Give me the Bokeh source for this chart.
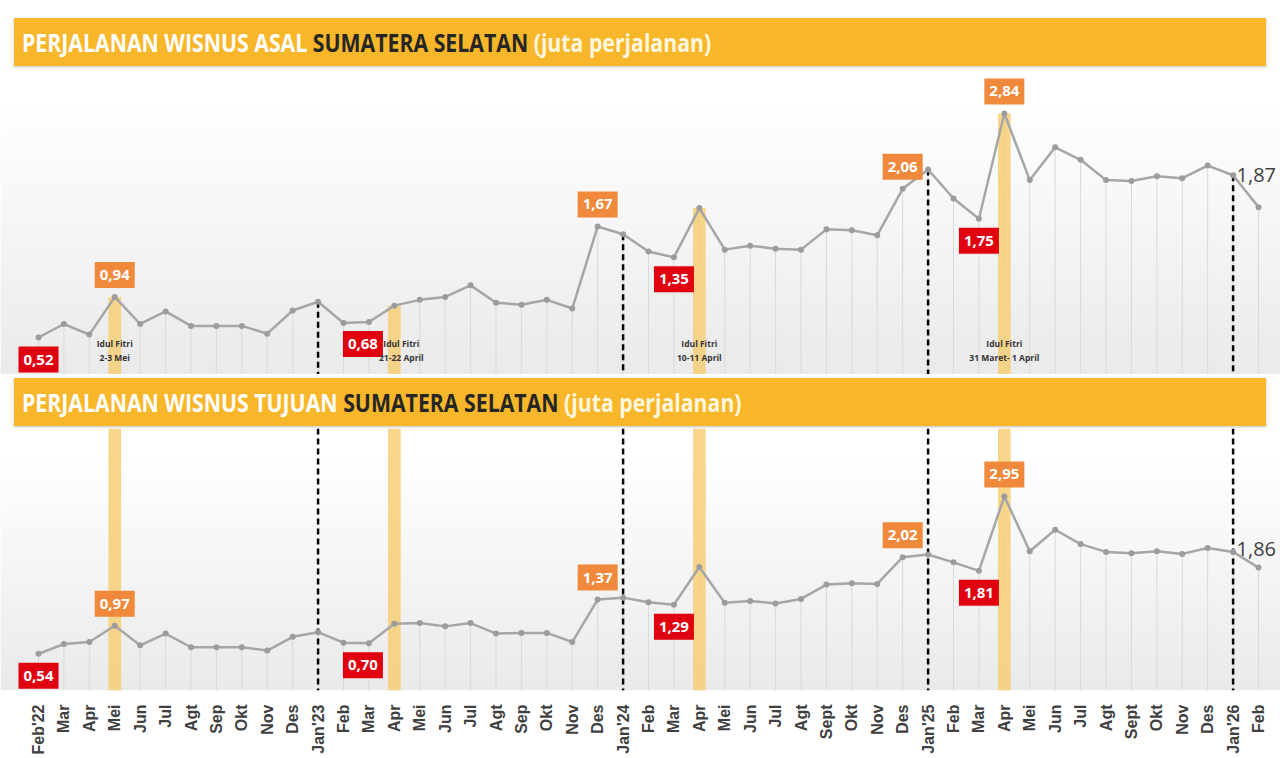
import math
import numpy as np
from bokeh.plotting import figure
from bokeh.models import ColumnDataSource, Range1d, FixedTicker, Div
from bokeh.layouts import column
from bokeh.core.properties import value
from bokeh.embed import file_html
from bokeh.resources import INLINE

# ---------------- data ----------------
months = ["Feb'22", "Mar", "Apr", "Mei", "Jun", "Jul", "Agt", "Sep", "Okt", "Nov", "Des",
          "Jan'23", "Feb", "Mar", "Apr", "Mei", "Jun", "Jul", "Agt", "Sep", "Okt", "Nov", "Des",
          "Jan'24", "Feb", "Mar", "Apr", "Mei", "Jun", "Jul", "Agt", "Sept", "Okt", "Nov", "Des",
          "Jan'25", "Feb", "Mar", "Apr", "Mei", "Jun", "Jul", "Agt", "Sept", "Okt", "Nov", "Des",
          "Jan'26", "Feb"]

asal = [0.52, 0.66, 0.55, 0.94, 0.66, 0.79, 0.64, 0.64, 0.64, 0.56, 0.80,
        0.89, 0.67, 0.68, 0.85, 0.91, 0.94, 1.06, 0.88, 0.86, 0.91, 0.82, 1.67,
        1.59, 1.41, 1.35, 1.86, 1.43, 1.47, 1.44, 1.43, 1.64, 1.63, 1.58, 2.06,
        2.26, 1.96, 1.75, 2.84, 2.15, 2.49, 2.36, 2.15, 2.14, 2.19, 2.17, 2.30,
        2.20, 1.87]

tujuan = [0.54, 0.69, 0.72, 0.97, 0.67, 0.85, 0.64, 0.64, 0.64, 0.59, 0.80,
          0.87, 0.71, 0.70, 1.00, 1.01, 0.96, 1.01, 0.85, 0.86, 0.86, 0.72, 1.37,
          1.40, 1.33, 1.29, 1.87, 1.32, 1.35, 1.31, 1.38, 1.60, 1.62, 1.61, 2.02,
          2.06, 1.94, 1.81, 2.95, 2.11, 2.44, 2.22, 2.10, 2.08, 2.11, 2.07, 2.16,
          2.10, 1.86]

label_idx = [0, 3, 13, 22, 25, 34, 37, 38]
label_kind = ["lo", "hi", "lo", "hi", "lo", "hi", "lo", "hi"]

fitri_idx = [3, 14, 26, 38]
fitri_line1 = ["Idul Fitri", "Idul Fitri", "Idul Fitri", "Idul Fitri"]
fitri_line2 = ["2-3 Mei", "21-22 April", "10-11 April", "31 Maret- 1 April"]

year_idx = [11, 23, 35, 47]

# ---------------- style ----------------
ORANGE = "#F0893B"
RED = "#E1000F"
BAND = "#F6CF78"
HEADER = "#F8B62A"
FONT = "Open Sans"
LABEL_XOFF = {13: -6}
FITRI_XOFF = {14: 7}

x = list(range(len(months)))


def fmt(v):
    return f"{v:.2f}".replace(".", ",")


def header(prefix, height, top_gap):
    html = (
        f'<div style="margin:{top_gap}px 0 0 14px;width:1252px;height:48px;background:{HEADER};'
        'box-shadow:0 1px 3px rgba(0,0,0,0.25);overflow:hidden;white-space:nowrap;">'
        '<span style="display:inline-block;margin:7px 0 0 8px;font-family:\'Open Sans\',sans-serif;'
        'font-weight:700;font-size:25px;line-height:34px;color:#FFFFFF;'
        'transform:scaleX(0.85);transform-origin:0 50%;">'
        f'{prefix} <span style="color:#262626">SUMATERA SELATAN</span> '
        '<span style="color:#FFF6DE">(juta perjalanan)</span></span></div>'
    )
    return Div(text=html, width=1280, height=height, margin=0)


def gradient(p, xr, yr):
    n = 256
    img = np.empty((n, 1), dtype=np.uint32)
    view = img.view(dtype=np.uint8).reshape((n, 1, 4))
    for i in range(n):
        t = i / (n - 1)
        g = int(round(234 + 21 * min(1.0, t / 0.9)))
        view[i, 0, :] = [g, g, g, 255]
    p.image_rgba(image=[img], x=xr.start, y=yr.start,
                 dw=xr.end - xr.start, dh=yr.end - yr.start)


def make_panel(vals, yr, frame_h, top_panel, last_yoff):
    xr = Range1d(-1.495, 48.865)
    p = figure(frame_width=1280, frame_height=frame_h, x_range=xr, y_range=yr,
               output_backend="svg", toolbar_location=None, min_border=0,
               x_axis_location=None if top_panel else "below", y_axis_location=None,
               outline_line_color=None, background_fill_color="white",
               border_fill_color="white")
    p.grid.visible = False

    gradient(p, xr, yr)

    # drop lines
    p.segment(x0=x, y0=vals, x1=x, y1=[yr.start] * len(x),
              line_color="#D9D9D9", line_width=1)

    # Idul Fitri bands
    if top_panel:
        tops = [vals[i] for i in fitri_idx]
    else:
        tops = [yr.end] * len(fitri_idx)
    p.vbar(x=fitri_idx, top=tops, bottom=yr.start, width=0.5,
           fill_color=BAND, fill_alpha=0.85, line_color=None)

    # year separators
    if top_panel:
        y0 = [vals[i] for i in year_idx]
    else:
        y0 = [yr.end] * len(year_idx)
    p.segment(x0=year_idx, y0=y0, x1=year_idx, y1=[yr.start] * len(year_idx),
              line_color="black", line_width=2.5, line_dash="6 4")

    # series
    p.line(x, vals, line_color="#A6A6A6", line_width=2.5)
    p.scatter(x, vals, size=6, fill_color="#9C9C9C", line_color=None)

    # value labels
    src = ColumnDataSource(dict(
        x=label_idx,
        y=[vals[i] for i in label_idx],
        text=[fmt(vals[i]) for i in label_idx],
        bg=[ORANGE if k == "hi" else RED for k in label_kind],
        yoff=[-22 if k == "hi" else 22 for k in label_kind],
        xoff=[LABEL_XOFF.get(i, 0) for i in label_idx],
    ))
    p.text(x="x", y="y", text="text", source=src, text_color="white",
           text_font=value(FONT), text_font_style="bold", text_font_size="15px",
           text_align="center", text_baseline="middle", y_offset="yoff", x_offset="xoff",
           background_fill_color="bg",
           padding=dict(left=5, right=5, top=8, bottom=8))

    # last value label
    p.text(x=[x[-1]], y=[vals[-1]], text=[fmt(vals[-1])], text_color="#3F3F3F",
           text_font=value(FONT), text_font_size="20px", text_align="left",
           text_baseline="middle", x_offset=-22, y_offset=last_yoff)

    if top_panel:
        ybase = [yr.start] * len(fitri_idx)
        xo = [FITRI_XOFF.get(i, 0) for i in fitri_idx]
        s1 = ColumnDataSource(dict(x=fitri_idx, y=ybase, t1=fitri_line1, t2=fitri_line2, xo=xo))
        p.text(x="x", y="y", text="t1", source=s1, text_color="#333333",
               text_font=value(FONT), text_font_style="bold", text_font_size="8.5px",
               text_align="center", text_baseline="middle", y_offset=-31, x_offset="xo")
        p.text(x="x", y="y", text="t2", source=s1, text_color="#333333",
               text_font=value(FONT), text_font_style="bold", text_font_size="8.5px",
               text_align="center", text_baseline="middle", y_offset=-17, x_offset="xo")
    else:
        ax = p.xaxis[0]
        ax.ticker = FixedTicker(ticks=x)
        ax.major_label_overrides = {i: m for i, m in enumerate(months)}
        ax.major_label_orientation = math.pi / 2
        ax.major_label_text_font = "Liberation Sans"
        ax.major_label_text_font_style = "bold"
        ax.major_label_text_font_size = "16px"
        ax.major_label_text_color = "#404040"
        ax.major_label_standoff = 8
        ax.axis_line_color = None
        ax.major_tick_line_color = None
        ax.minor_tick_line_color = None
    return p


p_top = make_panel(asal, Range1d(0.137, 3.285), 304, True, -32)
p_bot = make_panel(tujuan, Range1d(-0.022, 3.99), 262, False, -19)

layout = column(
    header("PERJALANAN WISNUS ASAL", 70, 18),
    p_top,
    header("PERJALANAN WISNUS TUJUAN", 54, 4),
    p_bot,
    spacing=0,
)

open("out.html", "w").write(file_html(layout, INLINE))
